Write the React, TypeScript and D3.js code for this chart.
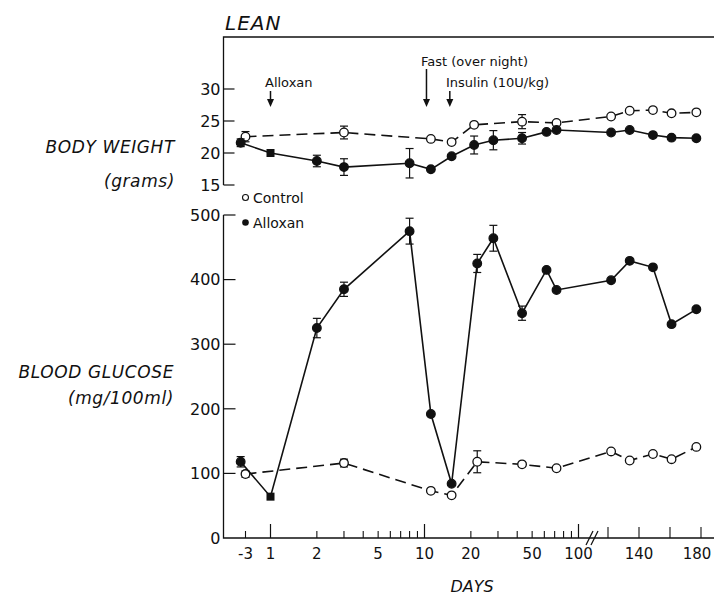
import React from "react";
import * as d3 from "d3";

// ---- data ----
const glucoseAlloxanDays = [-4, 1, 2, 3, 8, 11, 15, 22, 28, 43, 62, 72, 122, 134, 149, 161, 177];
const glucoseAlloxan = [118, 64, 325, 385, 475, 192, 84, 425, 464, 348, 415, 384, 399, 429, 419, 331, 354];
const glucoseAlloxanErr = [8, 0, 15, 11, 20, 0, 0, 14, 20, 11, 0, 0, 0, 0, 0, 0, 0];

const glucoseControlDays = [-3, 3, 11, 15, 22, 43, 72, 122, 134, 149, 161, 177];
const glucoseControl = [99, 116, 73, 66, 118, 114, 108, 134, 120, 130, 122, 141];
const glucoseControlErr = [5, 6, 0, 0, 17, 3, 0, 0, 0, 0, 0, 0];

const weightAlloxanDays = [-4, 1, 2, 3, 8, 11, 15, 21, 28, 43, 62, 72, 122, 134, 149, 161, 177];
const weightAlloxan = [21.6, 20, 18.75, 17.8, 18.4, 17.45, 19.5, 21.25, 22.0, 22.3, 23.3, 23.6, 23.2, 23.6, 22.8, 22.4, 22.3];
const weightAlloxanErr = [0.6, 0, 0.9, 1.3, 2.3, 0, 0, 1.4, 1.5, 0.9, 0, 0, 0, 0, 0, 0, 0];

const weightControlDays = [-3, 3, 11, 15, 21, 43, 72, 122, 134, 149, 161, 177];
const weightControl = [22.55, 23.2, 22.2, 21.7, 24.4, 24.9, 24.7, 25.7, 26.6, 26.7, 26.2, 26.35];
const weightControlErr = [0.8, 1, 0, 0, 0, 1.1, 0, 0, 0, 0, 0, 0];

const xTickLabels = [-3, 1, 2, 5, 10, 20, 50, 100, 140, 180];
const xMajorTicks = [1, 10, 100];
const xMinorTicks = [-3, 2, 3, 4, 5, 6, 7, 8, 9, 20, 30, 40, 50, 60, 70, 80, 90];
const xLateTicks = [120, 140, 160, 180];
const glucoseTicks = [0, 100, 200, 300, 400, 500];
const weightTicks = [15, 20, 25, 30];

// ---- scales ----
const xPre = d3.scaleLinear().domain([-3, 0]).range([245.5, 260]);
const xLog = d3.scaleLog().domain([1, 100]).range([270.5, 578.5]);
const xLate = d3.scaleLinear().domain([120, 180]).range([608, 701]);
const x = (d: number) => (d <= 0 ? xPre(d) : d <= 100 ? xLog(d) : xLate(d));

const yG = d3.scaleLinear().domain([0, 500]).range([538, 215]);
const yW = d3.scaleLinear().domain([15, 30]).range([185, 89]);

const AXIS_X = 223.5;
const TOP_Y = 37;
const FONT = "DejaVu Sans, sans-serif";

type Pt = { d: number; v: number; e: number };
const zip = (ds: number[], vs: number[], es: number[]): Pt[] => ds.map((d, i) => ({ d, v: vs[i], e: es[i] }));

function Series({ pts, y, filled, dashed }: { pts: Pt[]; y: (v: number) => number; filled: boolean; dashed: boolean }) {
  const line = d3.line<Pt>().x((p) => x(p.d)).y((p) => y(p.v));
  return (
    <g>
      <path d={line(pts) || ""} fill="none" stroke="#111" strokeWidth={1.6} strokeDasharray={dashed ? "11,6" : undefined} />
      {pts.filter((p) => p.e > 0).map((p, i) => (
        <g key={"e" + i} stroke="#111" strokeWidth={1.2}>
          <line x1={x(p.d)} x2={x(p.d)} y1={y(p.v - p.e)} y2={y(p.v + p.e)} />
          <line x1={x(p.d) - 4} x2={x(p.d) + 4} y1={y(p.v - p.e)} y2={y(p.v - p.e)} />
          <line x1={x(p.d) - 4} x2={x(p.d) + 4} y1={y(p.v + p.e)} y2={y(p.v + p.e)} />
        </g>
      ))}
      {pts.map((p, i) =>
        filled && p.d === 1 ? (
          <rect key={i} x={x(p.d) - 4} y={y(p.v) - 4} width={8} height={8} fill="#111" />
        ) : (
          <circle key={i} cx={x(p.d)} cy={y(p.v)} r={4.3} fill={filled ? "#111" : "#fff"} stroke="#111" strokeWidth={1.3} />
        )
      )}
    </g>
  );
}

function Arrow({ xp, y1, y2 }: { xp: number; y1: number; y2: number }) {
  return (
    <g>
      <line x1={xp} x2={xp} y1={y1} y2={y2 - 6} stroke="#111" strokeWidth={1.5} />
      <path d={`M${xp - 3.5},${y2 - 8} L${xp + 3.5},${y2 - 8} L${xp},${y2} Z`} fill="#111" />
    </g>
  );
}

export default function App() {
  const gA = zip(glucoseAlloxanDays, glucoseAlloxan, glucoseAlloxanErr);
  const gC = zip(glucoseControlDays, glucoseControl, glucoseControlErr);
  const wA = zip(weightAlloxanDays, weightAlloxan, weightAlloxanErr);
  const wC = zip(weightControlDays, weightControl, weightControlErr);
  const base = yG(0);
  return (
    <svg width={714} height={597} style={{ position: "absolute", left: 0, top: 0, background: "#fff" }} fontFamily={FONT}>
      <rect x={0} y={0} width={714} height={597} fill="#fff" />
      {/* title */}
      <text x={225} y={30} fontSize={20} fontStyle="italic" letterSpacing={1} fill="#111">LEAN</text>

      {/* body weight axis */}
      <path d={`M714,${TOP_Y} L${AXIS_X},${TOP_Y} L${AXIS_X},${yW(15)}`} fill="none" stroke="#111" strokeWidth={1.3} />
      {weightTicks.map((t) => (
        <g key={t}>
          <line x1={AXIS_X} x2={AXIS_X + 11} y1={yW(t)} y2={yW(t)} stroke="#111" strokeWidth={1.2} />
          <text x={AXIS_X - 3} y={yW(t)} dy="0.36em" textAnchor="end" fontSize={16} fill="#111">{t}</text>
        </g>
      ))}
      <text x={175} y={153} textAnchor="end" fontSize={17} fontStyle="italic" letterSpacing={0.6} fill="#111">BODY WEIGHT</text>
      <text x={175} y={187} textAnchor="end" fontSize={17} fontStyle="italic" letterSpacing={0.6} fill="#111">(grams)</text>

      {/* glucose axis */}
      <path d={`M${AXIS_X},${yG(500)} L${AXIS_X},${base} L714,${base}`} fill="none" stroke="#111" strokeWidth={1.3} />
      {glucoseTicks.map((t) => (
        <g key={t}>
          {t > 0 && <line x1={AXIS_X} x2={AXIS_X + 12} y1={yG(t)} y2={yG(t)} stroke="#111" strokeWidth={1.2} />}
          <text x={AXIS_X - 3} y={yG(t)} dy="0.36em" textAnchor="end" fontSize={16} fill="#111">{t}</text>
        </g>
      ))}
      <text x={174} y={378} textAnchor="end" fontSize={17} fontStyle="italic" letterSpacing={0.6} fill="#111">BLOOD GLUCOSE</text>
      <text x={174} y={404} textAnchor="end" fontSize={17} fontStyle="italic" letterSpacing={0.6} fill="#111">(mg/100ml)</text>

      {/* x ticks */}
      {xMinorTicks.map((t) => (
        <line key={"m" + t} x1={x(t)} x2={x(t)} y1={base} y2={base - 7} stroke="#111" strokeWidth={1.1} />
      ))}
      {xMajorTicks.map((t) => (
        <line key={"M" + t} x1={x(t)} x2={x(t)} y1={base} y2={base - 14} stroke="#111" strokeWidth={1.2} />
      ))}
      {xLateTicks.map((t) => (
        <line key={"L" + t} x1={x(t)} x2={x(t)} y1={base} y2={base - 11} stroke="#111" strokeWidth={1.1} />
      ))}
      {/* break marks */}
      <g stroke="#111" strokeWidth={1.2}>
        <line x1={586} x2={593} y1={base + 7} y2={base - 7} />
        <line x1={591} x2={598} y1={base + 7} y2={base - 7} />
      </g>
      {xTickLabels.map((t) => (
        <text key={"t" + t} x={Math.min(x(t), 697)} y={559} textAnchor="middle" fontSize={15} fill="#111">{t}</text>
      ))}
      <text x={472} y={592} textAnchor="middle" fontSize={16} fontStyle="italic" fill="#111">DAYS</text>

      {/* legend */}
      <circle cx={245.5} cy={197.5} r={3} fill="#fff" stroke="#111" strokeWidth={1.1} />
      <text x={253} y={197.5} dy="0.36em" fontSize={14} fill="#111">Control</text>
      <circle cx={245.5} cy={222.5} r={3.3} fill="#111" />
      <text x={253} y={222.5} dy="0.36em" fontSize={14} fill="#111">Alloxan</text>

      {/* annotations */}
      <text x={265} y={87} fontSize={13} fill="#111">Alloxan</text>
      <Arrow xp={x(1)} y1={91} y2={107} />
      <text x={421} y={66} fontSize={13} fill="#111">Fast (over night)</text>
      <Arrow xp={x(10.3)} y1={69} y2={107} />
      <text x={446} y={87} fontSize={13} fill="#111">Insulin (10U/kg)</text>
      <Arrow xp={x(14.6)} y1={91} y2={107} />

      {/* series */}
      <Series pts={wC} y={yW} filled={false} dashed={true} />
      <Series pts={wA} y={yW} filled={true} dashed={false} />
      <Series pts={gC} y={yG} filled={false} dashed={true} />
      <Series pts={gA} y={yG} filled={true} dashed={false} />
    </svg>
  );
}
